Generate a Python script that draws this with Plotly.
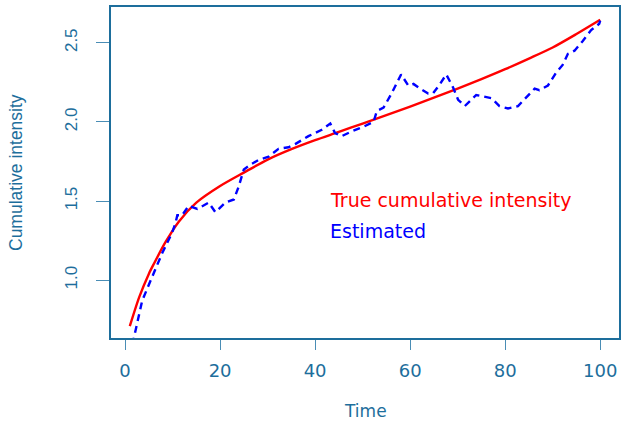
import plotly.graph_objects as go

# True cumulative intensity, read at selected times
true_t = [1, 3, 5, 6, 8.5, 11.3, 15, 20, 25, 30, 35, 40, 45, 50, 55, 60, 65, 70,
          75, 80, 85, 90, 95, 100]
true_y = [0.71, 0.895, 1.04, 1.10, 1.24, 1.37, 1.49, 1.595, 1.68, 1.762, 1.828,
          1.885, 1.937, 1.99, 2.043, 2.097, 2.153, 2.21, 2.27, 2.333, 2.40, 2.47,
          2.555, 2.645]

# Estimated cumulative intensity
est_t = [1, 3.6, 5.4, 7.8, 9.9, 10.6, 11.0, 12.0, 13.4, 15.2, 17.6, 19.0, 21.1,
         22.9, 23.9, 25.0, 26.4, 28.1, 30.2, 32.3, 34.4, 35.8, 38.6, 41.4, 43.2,
         44.2, 45.6, 47.7, 50.2, 52.3, 53.0, 54.4, 56.1, 58.1, 59.6, 60.7, 62.1,
         63.8, 64.8, 66.3, 67.6, 69.0, 70.1, 71.5, 73.9, 77.1, 78.8, 80.6, 82.7,
         84.8, 86.2, 87.2, 89.0, 90.7, 92.1, 93.2, 94.6, 96.3, 98.1, 99.8, 100]
est_y = [0.52, 0.87, 1.00, 1.17, 1.30, 1.36, 1.41, 1.41, 1.47, 1.45, 1.49, 1.43,
         1.49, 1.51, 1.59, 1.70, 1.73, 1.76, 1.78, 1.83, 1.84, 1.86, 1.91, 1.95,
         1.99, 1.93, 1.91, 1.94, 1.97, 2.00, 2.07, 2.09, 2.18, 2.30, 2.23, 2.24,
         2.21, 2.18, 2.18, 2.24, 2.30, 2.22, 2.14, 2.10, 2.17, 2.15, 2.10, 2.085,
         2.10, 2.17, 2.21, 2.20, 2.23, 2.31, 2.36, 2.43, 2.45, 2.51, 2.58, 2.62,
         2.64]

x_ticks = [0, 20, 40, 60, 80, 100]
y_ticks = [1.0, 1.5, 2.0, 2.5]
y_tick_text = ["1.0", "1.5", "2.0", "2.5"]

AXIS_COLOR = "#1d6e9c"
TICK_COLOR = "#4a8db5"

fig = go.Figure()
fig.add_trace(go.Scatter(x=true_t, y=true_y, mode="lines",
                         line=dict(color="#ff0000", width=2.4, shape="spline", smoothing=0.8),
                         showlegend=False))
fig.add_trace(go.Scatter(x=est_t, y=est_y, mode="lines",
                         line=dict(color="#0000ff", width=2.4, dash="7px,5px"),
                         showlegend=False))

fig.update_layout(
    width=625, height=422,
    margin=dict(l=111, r=4, t=7, b=84),
    plot_bgcolor="white", paper_bgcolor="white",
    showlegend=False,
)
fig.update_xaxes(
    range=[-2.96, 103.96], tickvals=x_ticks, showgrid=False, zeroline=False,
    showline=True, mirror=True, linecolor=AXIS_COLOR, linewidth=1.5,
    ticks="outside", ticklen=10, tickwidth=1.2, tickcolor=TICK_COLOR,
    tickfont=dict(family="DejaVu Sans", size=18, color=AXIS_COLOR),
    ticklabelstandoff=6,
)
fig.update_yaxes(
    range=[0.635, 2.726], tickvals=y_ticks, ticktext=y_tick_text, showgrid=False,
    zeroline=False, showline=True, mirror=True, linecolor=AXIS_COLOR, linewidth=1.5,
    ticks="outside", ticklen=13, tickwidth=1.2, tickcolor=TICK_COLOR,
    tickangle=-90,
    tickfont=dict(family="Liberation Sans", size=17, color=AXIS_COLOR),
    ticklabelstandoff=12,
)

# Axis titles
fig.add_annotation(text="Time", xref="paper", yref="paper", x=0.5, y=-0.22,
                   xanchor="center", yanchor="middle", showarrow=False,
                   font=dict(family="DejaVu Sans", size=17, color=AXIS_COLOR))
fig.add_annotation(text="Cumulative intensity", xref="paper", yref="paper",
                   x=-0.188, y=0.5, xanchor="center", yanchor="middle",
                   textangle=-90, showarrow=False,
                   font=dict(family="Liberation Sans", size=17.5, color=AXIS_COLOR))

# Legend text
fig.add_annotation(text="True cumulative intensity", xref="paper", yref="paper",
                   x=(329 - 111) / 509.5, y=(338 - 200) / 331, xanchor="left",
                   yanchor="middle", showarrow=False,
                   font=dict(family="DejaVu Sans", size=19, color="#ff0000"))
fig.add_annotation(text="Estimated", xref="paper", yref="paper",
                   x=(329 - 111) / 509.5, y=(338 - 231) / 331, xanchor="left",
                   yanchor="middle", showarrow=False,
                   font=dict(family="DejaVu Sans", size=19, color="#0000ff"))

fig.write_html("out.html")
